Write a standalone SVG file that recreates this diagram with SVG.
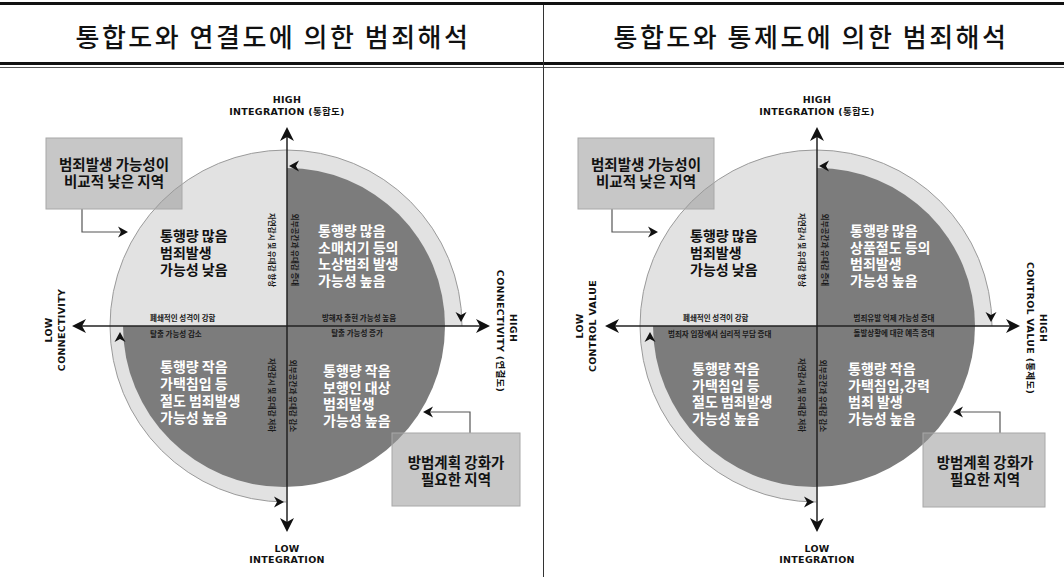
<svg xmlns="http://www.w3.org/2000/svg" width="1064" height="577" viewBox="0 0 1064 577">
<style>
.title{font-family:"Noto Sans CJK KR","Noto Sans",sans-serif;font-size:26px;font-weight:500;letter-spacing:2.5px;fill:#111;text-anchor:middle}
.ax{font-family:"DejaVu Sans","Noto Sans CJK KR",sans-serif;font-size:9.5px;font-weight:700;letter-spacing:0.3px;fill:#111;text-anchor:middle}
.q{font-family:"Noto Sans CJK KR",sans-serif;font-size:14px;font-weight:700}
.qd{fill:#111}
.ql{fill:#fff}
.s{font-family:"Noto Sans CJK KR",sans-serif;font-size:7.5px;font-weight:700;fill:#1a1a1a}
.bx{font-family:"Noto Sans CJK KR",sans-serif;font-size:14.5px;font-weight:700;fill:#111;text-anchor:middle}
.light{fill:#e2e2e2}
.dark{fill:#7c7c7c}
.rim{fill:none;stroke:#9a9a9a;stroke-width:1}
.axis{stroke:#222;stroke-width:1.5;fill:none}
.conn{stroke:#555;stroke-width:1.2;fill:none}
.box{fill:#999;fill-opacity:0.55;stroke:#a8a8a8;stroke-width:1}
.ah{fill:#111}
</style>
<defs>
<path id="bigHead" d="M0,0 l-14,-7 l4,7 l-4,7 z"/>
<path id="smHead" d="M0,0 l-10,-5.5 l3,5.5 l-3,5.5 z"/>
</defs>

<g id="frame">
<rect x="0" y="2" width="1064" height="3" fill="#111"/>
<rect x="0" y="62" width="1064" height="3" fill="#111"/>
<line x1="0" y1="67.5" x2="1064" y2="67.5" stroke="#555" stroke-width="1"/>
<line x1="543.5" y1="5" x2="543.5" y2="577" stroke="#333" stroke-width="1"/>
</g>
<g id="title-left"><text class="title" x="273" y="47">통합도와 연결도에 의한 범죄해석</text></g>
<g id="title-right"><text class="title" x="811" y="47">통합도와 통제도에 의한 범죄해석</text></g>

<!-- LEFT DIAGRAM -->
<g id="left-diagram">
<g id="L-circle">
<path class="light" d="M286,326 L286,502 A176,176 0 0,1 110,326 A176,176 0 0,1 286,150 A176,176 0 0,1 462,326 Z"/>
<path class="rim" d="M286,502 A176,176 0 0,1 110,326 A176,176 0 0,1 286,150 A176,176 0 0,1 462,326"/>
<path class="dark" d="M287,326 L287,168 A158,158 0 0,1 445,326 Z"/>
<path class="dark" d="M123,326 A161,161 0 0,0 445,326 Z"/>
</g>
<g id="L-q-ul">
<text class="q qd" x="160" y="241"><tspan x="160">통행량 많음</tspan><tspan x="160" dy="17">범죄발생</tspan><tspan x="160" dy="17">가능성 낮음</tspan></text>
<text class="s" x="150" y="321">폐쇄적인 성격이 강함</text>
<text class="s" text-anchor="middle" transform="translate(269,250) rotate(90)">자연감시 및 유대감 향상</text>
</g>
<g id="L-q-ur">
<text class="q ql" x="318" y="236"><tspan x="318">통행량 많음</tspan><tspan x="318" dy="16.5">소매치기 등의</tspan><tspan x="318" dy="16.5">노상범죄 발생</tspan><tspan x="318" dy="16.5">가능성 높음</tspan></text>
<text class="s" text-anchor="middle" x="359" y="321">방해자 출현 가능성 높음</text>
<text class="s" text-anchor="middle" transform="translate(292,250) rotate(90)">외부공간과 유대감 증대</text>
</g>
<g id="L-q-ll">
<text class="q ql" x="160" y="372"><tspan x="160">통행량 작음</tspan><tspan x="160" dy="17">가택침입 등</tspan><tspan x="160" dy="17">절도 범죄발생</tspan><tspan x="160" dy="17">가능성 높음</tspan></text>
<text class="s" x="150" y="337">탈출 가능성 감소</text>
<text class="s" text-anchor="middle" transform="translate(269,395) rotate(90)">자연감시 및 유대감 저하</text>
</g>
<g id="L-q-lr">
<text class="q ql" x="323" y="376"><tspan x="323">통행량 작음</tspan><tspan x="323" dy="16.5">보행인 대상</tspan><tspan x="323" dy="16.5">범죄발생</tspan><tspan x="323" dy="16.5">가능성 높음</tspan></text>
<text class="s" text-anchor="middle" x="357" y="336">탈출 가능성 증가</text>
<text class="s" text-anchor="middle" transform="translate(290,396) rotate(90)">외부공간과 유대감 감소</text>
</g>
<g id="L-connectors">
<line class="axis" x1="287" y1="130" x2="287" y2="529"/>
<line class="axis" x1="75" y1="326" x2="487" y2="326"/>
<use href="#bigHead" class="ah" transform="translate(287,127) rotate(-90)"/>
<use href="#bigHead" class="ah" transform="translate(287,532) rotate(90)"/>
<use href="#bigHead" class="ah" transform="translate(72,326) rotate(180)"/>
<use href="#bigHead" class="ah" transform="translate(490,326)"/>
<use href="#smHead" class="ah" transform="translate(289,166) rotate(180)"/>
<use href="#smHead" class="ah" transform="translate(461,322) rotate(90)"/>
<use href="#smHead" class="ah" transform="translate(120,332) rotate(-90)"/>
<use href="#smHead" class="ah" transform="translate(284,502)"/>
<polyline class="conn" points="82,209 82,232 124,232"/>
<use href="#smHead" class="ah" transform="translate(128,232)"/>
<polyline class="conn" points="470,433 470,412 427,412"/>
<use href="#smHead" class="ah" transform="translate(423,412) rotate(180)"/>
</g>
<g id="L-label-top"><text class="ax" x="287" y="103"><tspan x="287">HIGH</tspan><tspan x="287" dy="12">INTEGRATION (통합도)</tspan></text></g>
<g id="L-label-bottom"><text class="ax" x="287" y="552"><tspan x="287">LOW</tspan><tspan x="287" dy="11">INTEGRATION</tspan></text></g>
<g id="L-label-left"><text class="ax" transform="translate(52,330) rotate(-90)"><tspan x="0">LOW</tspan><tspan x="0" dy="13">CONNECTIVITY</tspan></text></g>
<g id="L-label-right"><text class="ax" transform="translate(510,328) rotate(90)"><tspan x="0">HIGH</tspan><tspan x="3" dy="13">CONNECTIVITY (연결도)</tspan></text></g>
<g id="L-box-low">
<rect class="box" x="46" y="138" width="136" height="71"/>
<text class="bx" x="114" y="170"><tspan x="114">범죄발생 가능성이</tspan><tspan x="114" dy="17">비교적 낮은 지역</tspan></text>
</g>
<g id="L-box-need">
<rect class="box" x="392" y="433" width="128" height="73"/>
<text class="bx" x="456" y="468"><tspan x="456">방범계획 강화가</tspan><tspan x="456" dy="17">필요한 지역</tspan></text>
</g>
</g>

<!-- RIGHT DIAGRAM -->
<g id="right-diagram" transform="translate(530,0)">
<g id="R-circle">
<path class="light" d="M286,326 L286,502 A176,176 0 0,1 110,326 A176,176 0 0,1 286,150 A176,176 0 0,1 462,326 Z"/>
<path class="rim" d="M286,502 A176,176 0 0,1 110,326 A176,176 0 0,1 286,150 A176,176 0 0,1 462,326"/>
<path class="dark" d="M287,326 L287,168 A158,158 0 0,1 445,326 Z"/>
<path class="dark" d="M123,326 A161,161 0 0,0 445,326 Z"/>
</g>
<g id="R-q-ul">
<text class="q qd" x="160" y="241"><tspan x="160">통행량 많음</tspan><tspan x="160" dy="17">범죄발생</tspan><tspan x="160" dy="17">가능성 낮음</tspan></text>
<text class="s" x="153" y="321">폐쇄적인 성격이 강함</text>
<text class="s" text-anchor="middle" transform="translate(269,250) rotate(90)">자연감시 및 유대감 향상</text>
</g>
<g id="R-q-ur">
<text class="q ql" x="320" y="236"><tspan x="320">통행량 많음</tspan><tspan x="320" dy="16.5">상품절도 등의</tspan><tspan x="320" dy="16.5">범죄발생</tspan><tspan x="320" dy="16.5">가능성 높음</tspan></text>
<text class="s" text-anchor="middle" x="364" y="321">범죄유발 억제 가능성 증대</text>
<text class="s" text-anchor="middle" transform="translate(292,250) rotate(90)">외부공간과 유대감 증대</text>
</g>
<g id="R-q-ll">
<text class="q ql" x="162" y="374"><tspan x="162">통행량 작음</tspan><tspan x="162" dy="16.7">가택침입 등</tspan><tspan x="162" dy="16.7">절도 범죄발생</tspan><tspan x="162" dy="16.7">가능성 높음</tspan></text>
<text class="s" x="138" y="337">범죄자 입장에서 심리적 부담 증대</text>
<text class="s" text-anchor="middle" transform="translate(269,395) rotate(90)">자연감시 및 유대감 저하</text>
</g>
<g id="R-q-lr">
<text class="q ql" x="318" y="374"><tspan x="318">통행량 작음</tspan><tspan x="318" dy="16.7">가택침입,강력</tspan><tspan x="318" dy="16.7">범죄 발생</tspan><tspan x="318" dy="16.7">가능성 높음</tspan></text>
<text class="s" text-anchor="middle" x="364" y="336">돌발상황에 대한 예측 증대</text>
<text class="s" text-anchor="middle" transform="translate(290,396) rotate(90)">외부공간과 유대감 감소</text>
</g>
<g id="R-connectors">
<line class="axis" x1="287" y1="130" x2="287" y2="529"/>
<line class="axis" x1="77" y1="326" x2="487" y2="326"/>
<use href="#bigHead" class="ah" transform="translate(287,127) rotate(-90)"/>
<use href="#bigHead" class="ah" transform="translate(287,532) rotate(90)"/>
<use href="#bigHead" class="ah" transform="translate(75,326) rotate(180)"/>
<use href="#bigHead" class="ah" transform="translate(490,326)"/>
<use href="#smHead" class="ah" transform="translate(289,166) rotate(180)"/>
<use href="#smHead" class="ah" transform="translate(461,322) rotate(90)"/>
<use href="#smHead" class="ah" transform="translate(120,332) rotate(-90)"/>
<use href="#smHead" class="ah" transform="translate(284,502)"/>
<polyline class="conn" points="82,209 82,232 124,232"/>
<use href="#smHead" class="ah" transform="translate(128,232)"/>
<polyline class="conn" points="470,433 470,412 427,412"/>
<use href="#smHead" class="ah" transform="translate(423,412) rotate(180)"/>
</g>
<g id="R-label-top"><text class="ax" x="287" y="103"><tspan x="287">HIGH</tspan><tspan x="287" dy="12">INTEGRATION (통합도)</tspan></text></g>
<g id="R-label-bottom"><text class="ax" x="287" y="552"><tspan x="287">LOW</tspan><tspan x="287" dy="11">INTEGRATION</tspan></text></g>
<g id="R-label-left"><text class="ax" transform="translate(53,326) rotate(-90)"><tspan x="0">LOW</tspan><tspan x="0" dy="13">CONTROL VALUE</tspan></text></g>
<g id="R-label-right"><text class="ax" transform="translate(510,328) rotate(90)"><tspan x="0">HIGH</tspan><tspan x="0" dy="13">CONTROL VALUE (통제도)</tspan></text></g>
<g id="R-box-low">
<rect class="box" x="48" y="138" width="136" height="71"/>
<text class="bx" x="116" y="170"><tspan x="116">범죄발생 가능성이</tspan><tspan x="116" dy="17">비교적 낮은 지역</tspan></text>
</g>
<g id="R-box-need">
<rect class="box" x="393" y="433" width="122" height="74"/>
<text class="bx" x="455" y="468"><tspan x="455">방범계획 강화가</tspan><tspan x="455" dy="17">필요한 지역</tspan></text>
</g>
</g>
</svg>
